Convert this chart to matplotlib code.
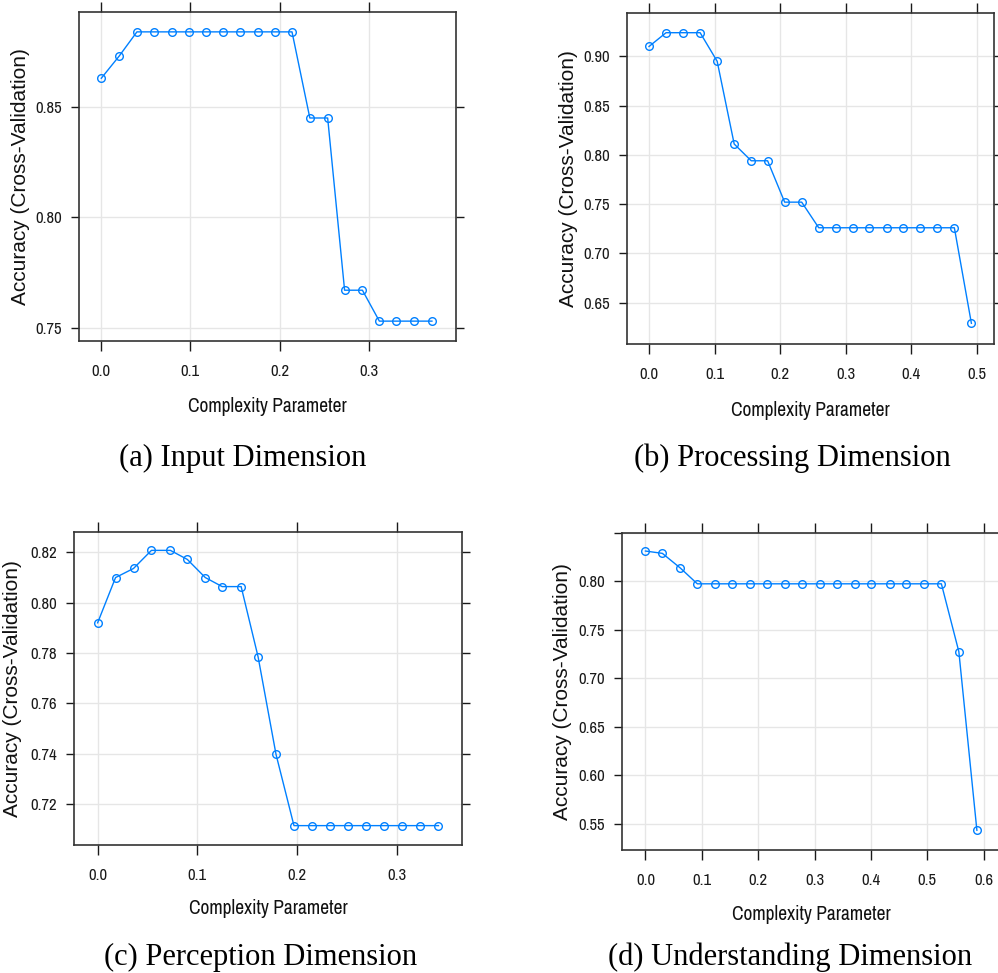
import matplotlib
matplotlib.use('Agg')
import matplotlib.pyplot as plt
from matplotlib import font_manager
from matplotlib.ticker import FormatStrFormatter

# tick labels in the original are in a narrow sans; use one if installed
narrow = None
for f in font_manager.fontManager.ttflist:
    if 'Narrow' in f.name or 'Condensed' in f.name:
        narrow = f.name
        break
if narrow is None:
    for f in font_manager.fontManager.ttflist:
        if f.name in ('DejaVu Sans', 'Liberation Sans') and f.stretch in ('condensed', 'semi-condensed', 'extra-condensed'):
            narrow = f.name
            break

plt.rcParams['font.family'] = ['Liberation Sans', 'DejaVu Sans']

# ---- data ----
cp_input = [0.000, 0.020, 0.040, 0.059, 0.079, 0.098, 0.118, 0.137, 0.156, 0.176,
            0.195, 0.214, 0.234, 0.254, 0.273, 0.293, 0.312, 0.331, 0.351, 0.371]
acc_input = [0.863, 0.873, 0.884, 0.884, 0.884, 0.884, 0.884, 0.884, 0.884, 0.884,
             0.884, 0.884, 0.845, 0.845, 0.767, 0.767, 0.753, 0.753, 0.753, 0.753]

cp_processing = [0.000, 0.026, 0.052, 0.078, 0.104, 0.130, 0.156, 0.181, 0.207, 0.233,
                 0.259, 0.285, 0.311, 0.336, 0.363, 0.388, 0.414, 0.440, 0.466, 0.492]
acc_processing = [0.910, 0.924, 0.924, 0.924, 0.895, 0.811, 0.794, 0.794, 0.752, 0.752,
                  0.726, 0.726, 0.726, 0.726, 0.726, 0.726, 0.726, 0.726, 0.726, 0.629]

cp_perception = [0.000, 0.018, 0.036, 0.054, 0.073, 0.090, 0.108, 0.125, 0.144, 0.161,
                 0.179, 0.197, 0.215, 0.233, 0.251, 0.269, 0.287, 0.305, 0.323, 0.342]
acc_perception = [0.792, 0.810, 0.8136, 0.8208, 0.8208, 0.8172, 0.810, 0.8064, 0.8064, 0.7785,
                  0.7397, 0.7114, 0.7114, 0.7114, 0.7114, 0.7114, 0.7114, 0.7114, 0.7114, 0.7114]

cp_understanding = [0.000, 0.030, 0.062, 0.092, 0.124, 0.154, 0.185, 0.216, 0.247, 0.278,
                    0.309, 0.339, 0.371, 0.401, 0.433, 0.463, 0.494, 0.525, 0.556, 0.588]
acc_understanding = [0.8314, 0.829, 0.8138, 0.7976, 0.7976, 0.7976, 0.7976, 0.7976, 0.7976, 0.7976,
                     0.7976, 0.7976, 0.7976, 0.7976, 0.7976, 0.7976, 0.7976, 0.7976, 0.7276, 0.5434]

captions = ['(a) Input Dimension', '(b) Processing Dimension',
            '(c) Perception Dimension', '(d) Understanding Dimension']

x_ticks = [[0.0, 0.1, 0.2, 0.3],
           [0.0, 0.1, 0.2, 0.3, 0.4, 0.5],
           [0.0, 0.1, 0.2, 0.3],
           [0.0, 0.1, 0.2, 0.3, 0.4, 0.5, 0.6]]
y_ticks = [[0.75, 0.80, 0.85],
           [0.65, 0.70, 0.75, 0.80, 0.85, 0.90],
           [0.72, 0.74, 0.76, 0.78, 0.80, 0.82],
           [0.55, 0.60, 0.65, 0.70, 0.75, 0.80, 0.85]]

# ---- layout in pixels of the 998x973 picture ----
W, H = 998, 973
boxes = [(79, 12, 456, 341), (627, 13, 994, 344), (74, 532, 462, 845), (622, 533, 1000, 850)]
xlims = [(-0.025, 0.398), (-0.0336, 0.5265), (-0.0237, 0.3656), (-0.0416, 0.629)]
ylims = [(0.744, 0.893), (0.608, 0.944), (0.7037, 0.8281), (0.5231, 0.850)]
cap_pos = [(243, 458), (792, 458), (261, 957), (790, 957)]
xlab_y = [407, 411, 909, 914]
ylab_x = [21, 569, 13, 563]

if narrow:
    tick_font, tick_size, xlab_size = [narrow, 'Liberation Sans'], 12, 14
else:
    tick_font, tick_size, xlab_size = ['Liberation Sans'], 11, 13.5

fig = plt.figure(figsize=(W / 100, H / 100), dpi=100)

series = [(cp_input, acc_input), (cp_processing, acc_processing),
          (cp_perception, acc_perception), (cp_understanding, acc_understanding)]

for i, (xs, ys) in enumerate(series):
    l, t, r, b = boxes[i]
    ax = fig.add_axes([l / W, 1 - b / H, (r - l) / W, (b - t) / H])
    ax.plot(xs, ys, color='#0080ff', linewidth=1.0, marker='o', markersize=5.5,
            markerfacecolor='none', markeredgecolor='#0080ff', markeredgewidth=1.0)
    ax.set_xlim(*xlims[i])
    ax.set_ylim(*ylims[i])
    ax.set_xticks(x_ticks[i])
    ax.set_yticks(y_ticks[i])
    ax.xaxis.set_major_formatter(FormatStrFormatter('%.1f'))
    ax.yaxis.set_major_formatter(FormatStrFormatter('%.2f'))
    if i == 3:
        labels = ['%.2f' % v for v in y_ticks[i]]
        labels[-1] = ''
        ax.set_yticklabels(labels)
    ax.grid(True, color='#e6e6e6', linewidth=1.0)
    ax.set_axisbelow(True)
    for s in ax.spines.values():
        s.set_color('#333333')
        s.set_linewidth(1.2)
    ax.tick_params(axis='x', which='both', direction='out', length=7.5, width=1.0,
                   top=True, bottom=True, labeltop=False, pad=9, labelsize=tick_size, colors='#1a1a1a')
    ax.tick_params(axis='y', which='both', direction='out', length=6, width=1.0,
                   left=True, right=True, labelright=False, pad=6, labelsize=tick_size, colors='#1a1a1a')
    for lab in ax.get_xticklabels() + ax.get_yticklabels():
        lab.set_family(tick_font)

    ax.set_xlabel('Complexity Parameter', fontsize=xlab_size, color='#111111', family=tick_font)
    ax.xaxis.label.set_va('center')
    ax.xaxis.set_label_coords(0.5, (b - xlab_y[i]) / (b - t))
    ax.set_ylabel('Accuracy (Cross-Validation)', fontsize=15, color='#111111')
    ax.yaxis.label.set_va('center')
    ax.yaxis.set_label_coords((ylab_x[i] - l) / (r - l), 0.5)

    cx, cy = cap_pos[i]
    fig.text(cx / W, 1 - cy / H, captions[i], ha='center', va='center', fontsize=22,
             family=['Liberation Serif', 'DejaVu Serif'], color='black')

plt.savefig('out.png', dpi=100)
